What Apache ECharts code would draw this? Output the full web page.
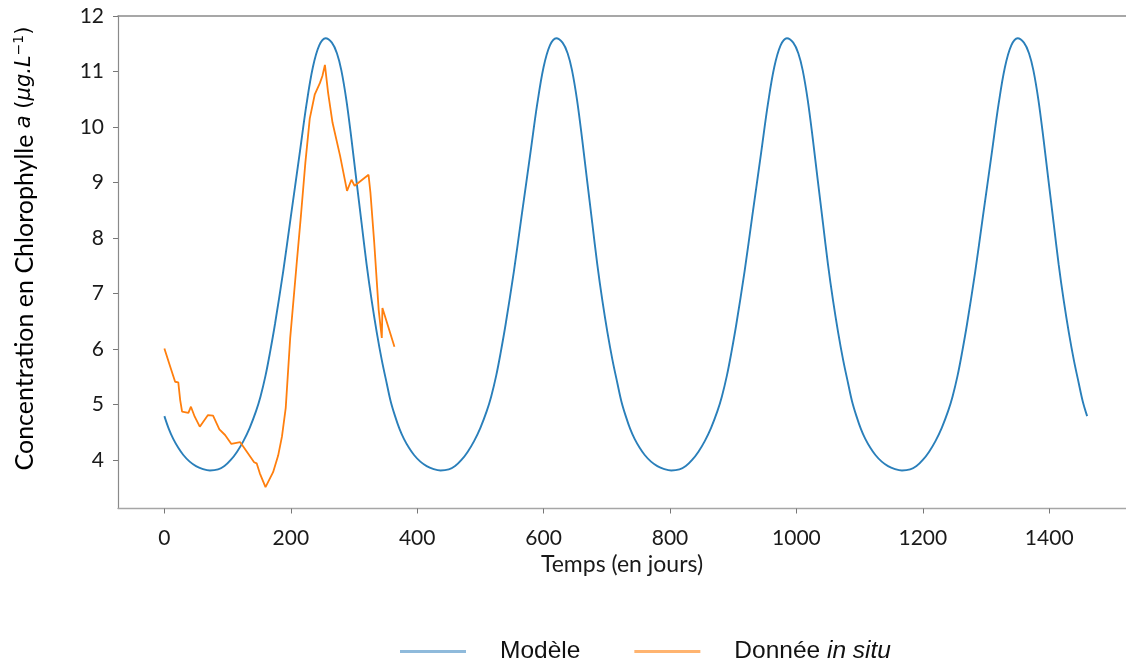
<!DOCTYPE html>
<html><head><meta charset="utf-8">
<script src="https://cdn.jsdelivr.net/npm/echarts@6/dist/echarts.min.js"></script>
<style>html,body{margin:0;padding:0;background:#fff}#c{width:1126px;height:661px}</style>
</head><body><div id="c"></div>
<script>
const xTicks = [0, 200, 400, 600, 800, 1000, 1200, 1400];
const yTicks = [4, 5, 6, 7, 8, 9, 10, 11, 12];
const seriesNames = ['Modèle', 'Donnée in situ'];

const modelDays = [
  0,7,14,22,30,40,50,60,72,85,95,105,115,125,135,145,152,160,167,175,188,200,214,225,235,245,255,265,273,280,288,296,304,312,320,328,336,344,352,358,
  365,372,379,387,395,405,415,425,437,450,460,470,480,490,500,510,517,525,532,540,553,565,579,590,600,610,620,630,638,645,653,661,669,677,685,693,701,709,717,723,
  730,737,744,752,760,770,780,790,802,815,825,835,845,855,865,875,882,890,897,905,918,930,944,955,965,975,985,995,1003,1010,1018,1026,1034,1042,1050,1058,1066,1074,1082,1088,
  1095,1102,1109,1117,1125,1135,1145,1155,1167,1180,1190,1200,1210,1220,1230,1240,1247,1255,1262,1270,1283,1295,1309,1320,1330,1340,1350,1360,1368,1375,1383,1391,1399,1407,1415,1423,1431,1439,1447,1453,
  1460
];
const modelValues = [
  4.79,4.56,4.38,4.22,4.09,3.97,3.89,3.84,3.81,3.83,3.89,4.00,4.15,4.34,4.58,4.88,5.14,5.52,5.93,6.45,7.40,8.38,9.52,10.42,11.08,11.47,11.60,11.52,11.33,11.02,10.48,9.78,9.02,8.27,7.52,6.87,6.30,5.80,5.37,5.06,
  4.79,4.56,4.38,4.22,4.09,3.97,3.89,3.84,3.81,3.83,3.89,4.00,4.15,4.34,4.58,4.88,5.14,5.52,5.93,6.45,7.40,8.38,9.52,10.42,11.08,11.47,11.60,11.52,11.33,11.02,10.48,9.78,9.02,8.27,7.52,6.87,6.30,5.80,5.37,5.06,
  4.79,4.56,4.38,4.22,4.09,3.97,3.89,3.84,3.81,3.83,3.89,4.00,4.15,4.34,4.58,4.88,5.14,5.52,5.93,6.45,7.40,8.38,9.52,10.42,11.08,11.47,11.60,11.52,11.33,11.02,10.48,9.78,9.02,8.27,7.52,6.87,6.30,5.80,5.37,5.06,
  4.79,4.56,4.38,4.22,4.09,3.97,3.89,3.84,3.81,3.83,3.89,4.00,4.15,4.34,4.58,4.88,5.14,5.52,5.93,6.45,7.40,8.38,9.52,10.42,11.08,11.47,11.60,11.52,11.33,11.02,10.48,9.78,9.02,8.27,7.52,6.87,6.30,5.80,5.37,5.06,
  4.79
];

const insituDays = [0,9,17,22,25,28,38,42,48,56,69,77,87,96,106,120,125,142,146,151,160,172,180,186,192,199,209,216,223,230,238,246,250,254,259,266,278,289,296,301,323,326,332,339,344,345,364];
const insituValues = [6.01,5.69,5.41,5.40,5.08,4.87,4.85,4.96,4.78,4.60,4.81,4.80,4.55,4.45,4.29,4.32,4.24,3.96,3.94,3.76,3.51,3.78,4.08,4.42,4.94,6.19,7.50,8.40,9.35,10.15,10.59,10.79,10.92,11.12,10.62,10.08,9.48,8.85,9.05,8.94,9.14,8.82,7.92,6.71,6.20,6.74,6.04];

const tickFont = { fontFamily: 'Lato', fontSize: 21, color: '#1a1a1a' };

const chart = echarts.init(document.getElementById('c'), null, { renderer: 'canvas' });
chart.setOption({
  animation: false,
  backgroundColor: '#fff',
  grid: { left: 118, right: 0, top: 16, bottom: 152.5, containLabel: false, outerBoundsMode: 'none' },
  legend: {
    left: 400, top: 639, padding: 0,
    icon: 'rect', itemWidth: 66, itemHeight: 3, itemGap: 54,
    textStyle: {
      fontFamily: 'Liberation Sans', fontSize: 24.5, color: '#111', padding: [0, 0, 0, 29],
      rich: { i: { fontFamily: 'Liberation Sans', fontSize: 24.5, fontStyle: 'italic', color: '#111' } }
    },
    formatter: function (n) { return n === seriesNames[1] ? 'Donnée {i|in situ}' : n; },
    data: [
      { name: seriesNames[0], itemStyle: { color: '#8fbadb' } },
      { name: seriesNames[1], itemStyle: { color: '#ffb470' } }
    ]
  },
  xAxis: [{
    type: 'value', min: -73.4, max: 1521.5,
    name: 'Temps (en jours)', nameLocation: 'middle', nameGap: 37,
    nameTextStyle: { fontFamily: 'Lato', fontSize: 23, color: '#1a1a1a' },
    axisLine: { show: true, onZero: false, lineStyle: { color: '#a6a6a6', width: 1.3 } },
    axisTick: { show: true, customValues: xTicks, length: 5, lineStyle: { color: '#777' } },
    axisLabel: Object.assign({ customValues: xTicks, margin: 19, formatter: function (v) { return String(v); } }, tickFont),
    splitLine: { show: false }
  }, {
    type: 'value', min: -73.4, max: 1521.5, position: 'top',
    axisLine: { show: true, onZero: false, lineStyle: { color: '#8a8a8a', width: 1.5 } },
    axisTick: { show: false }, axisLabel: { show: false }, splitLine: { show: false }
  }],
  yAxis: {
    type: 'value', min: 3.126, max: 12.0,
    axisLine: { show: true, onZero: false, lineStyle: { color: '#8a8a8a', width: 1.2 } },
    axisTick: { show: true, customValues: yTicks, length: 5, lineStyle: { color: '#777' } },
    axisLabel: Object.assign({ customValues: yTicks, margin: 14, formatter: function (v) { return String(v); } }, tickFont),
    splitLine: { show: false }
  },
  graphic: [{
    type: 'text', x: 25, y: 248.5, rotation: Math.PI / 2,
    style: {
      text: '{n|Concentration en Chlorophylle }{m|a}{p| (}{m|μg.L}{s|−1}{p|)}',
      align: 'center', verticalAlign: 'middle',
      rich: {
        n: { fontFamily: 'Lato', fontSize: 25, color: '#1a1a1a', lineHeight: 28 },
        m: { fontFamily: 'DejaVu Sans', fontStyle: 'italic', fontSize: 21, color: '#1a1a1a', lineHeight: 28 },
        p: { fontFamily: 'DejaVu Sans', fontSize: 21, color: '#1a1a1a', lineHeight: 28 },
        s: { fontFamily: 'DejaVu Sans', fontSize: 14, color: '#1a1a1a', padding: [0, 0, 11, 0] }
      }
    }
  }],
  series: [{
    name: seriesNames[0], type: 'line', xAxisIndex: 0,
    data: modelDays.map((d, i) => [d, modelValues[i]]),
    showSymbol: false, smooth: 0.35,
    lineStyle: { color: '#2a7fba', width: 1.9 }, itemStyle: { color: '#2a7fba' }
  }, {
    name: seriesNames[1], type: 'line', xAxisIndex: 0,
    data: insituDays.map((d, i) => [d, insituValues[i]]),
    showSymbol: false,
    lineStyle: { color: '#ff7f0e', width: 1.8 }, itemStyle: { color: '#ff7f0e' }
  }]
});
</script>
</body></html>
